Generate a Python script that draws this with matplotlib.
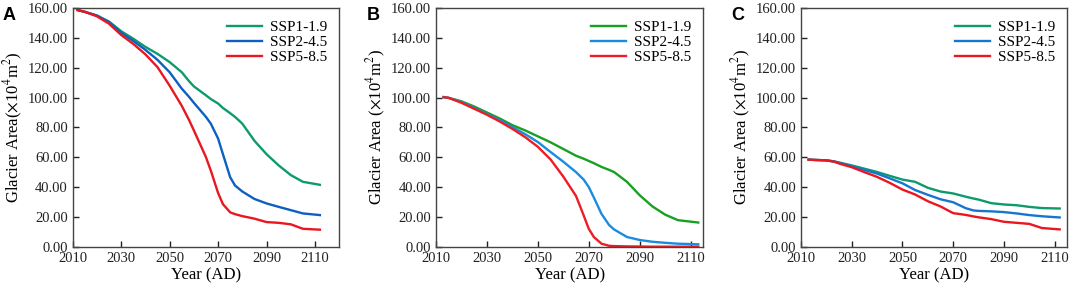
import matplotlib
matplotlib.use("Agg")
import matplotlib.pyplot as plt
from matplotlib.ticker import FormatStrFormatter

plt.rcParams['font.family'] = ['Liberation Serif', 'DejaVu Serif']
plt.rcParams['mathtext.fontset'] = 'stix'

# panel A
years_a = [2012, 2015, 2020, 2025, 2030, 2035, 2040, 2045, 2050, 2055, 2058, 2060, 2065, 2067,
           2070, 2072, 2075, 2077, 2080, 2085, 2090, 2095, 2100, 2105, 2112]
ssp119_a = [158.7, 157.5, 155.0, 151.0, 144.5, 139.5, 134.0, 129.3, 123.8, 117.0, 111.0, 107.5, 101.5, 99.0,
            96.0, 93.0, 89.5, 87.0, 82.5, 71.0, 62.0, 54.5, 48.0, 43.5, 41.5]
ssp245_a = [158.7, 157.5, 155.0, 150.5, 143.5, 138.0, 132.0, 125.3, 117.0, 106.0, 100.5, 96.5, 87.0, 82.5,
            72.5, 62.0, 46.5, 41.0, 37.0, 32.0, 29.0, 26.7, 24.5, 22.3, 21.2]
ssp585_a = [158.7, 157.5, 154.5, 149.5, 142.0, 136.0, 129.0, 120.4, 108.0, 94.5, 85.0, 78.0, 60.0, 51.0,
            36.0, 28.5, 23.0, 21.8, 20.5, 18.8, 16.5, 16.0, 15.0, 12.0, 11.4]

# panel B
years_b = [2013, 2015, 2020, 2025, 2030, 2035, 2040, 2045, 2050, 2055, 2060, 2065, 2068,
           2070, 2072, 2075, 2078, 2080, 2085, 2090, 2095, 2100, 2105, 2113]
ssp119_b = [100.3, 99.8, 97.5, 94.0, 90.0, 86.0, 81.5, 78.0, 74.0, 70.0, 65.5, 61.0, 59.0,
            57.5, 56.0, 53.5, 51.5, 50.0, 43.5, 34.5, 27.0, 21.5, 17.8, 16.2]
ssp245_b = [100.3, 99.8, 97.0, 93.0, 89.0, 85.0, 80.2, 75.5, 70.2, 63.5, 57.0, 50.0, 45.0,
            40.0, 33.0, 22.0, 14.5, 11.5, 6.5, 4.5, 3.3, 2.6, 2.0, 1.6]
ssp585_b = [100.3, 99.8, 96.5, 92.5, 88.5, 84.0, 79.0, 73.5, 67.0, 58.5, 47.0, 34.0, 21.0,
            12.0, 6.5, 2.0, 0.6, 0.4, 0.2, 0.1, 0.0, 0.0, 0.0, 0.0]

# panel C
years_c = [2013, 2015, 2020, 2023, 2025, 2030, 2035, 2040, 2045, 2050, 2055, 2060, 2065,
           2070, 2075, 2078, 2080, 2085, 2090, 2095, 2100, 2105, 2112]
ssp119_c = [58.4, 58.2, 57.9, 57.2, 56.5, 54.5, 52.3, 50.1, 47.5, 45.0, 43.5, 39.5, 37.0,
            35.7, 33.5, 32.3, 31.6, 29.2, 28.3, 27.8, 26.7, 25.9, 25.6]
ssp245_c = [58.4, 58.2, 57.9, 57.2, 56.2, 54.0, 51.5, 49.0, 45.8, 42.5, 38.0, 34.8, 31.8,
            29.8, 25.8, 24.3, 24.0, 23.7, 23.2, 22.3, 21.2, 20.4, 19.6]
ssp585_c = [58.4, 58.2, 57.9, 57.0, 55.8, 53.3, 50.0, 46.8, 42.8, 38.3, 35.0, 30.5, 27.0,
            22.5, 21.3, 20.3, 19.7, 18.5, 16.7, 16.0, 15.3, 12.5, 11.6]

labels = ['SSP1-1.9', 'SSP2-4.5', 'SSP5-8.5']

panels = [
    ('A', years_a, [ssp119_a, ssp245_a, ssp585_a], ['#0e9a6c', '#0b60c0', '#ea1620'],
     2120, 'Glacier Area($\\times$10$^{4}$m$^{2}$)', [0.0678, 0.1666, 0.2487, 0.806]),
    ('B', years_b, [ssp119_b, ssp245_b, ssp585_b], ['#17a021', '#1a8ce0', '#ee1c24'],
     2115, 'Glacier Area ($\\times$10$^{4}$m$^{2}$)', [0.4067, 0.1666, 0.2494, 0.806]),
    ('C', years_c, [ssp119_c, ssp245_c, ssp585_c], ['#0e9a6c', '#1775d0', '#ea1620'],
     2115, 'Glacier Area ($\\times$10$^{4}$m$^{2}$)', [0.7472, 0.1666, 0.2484, 0.806]),
]

fig = plt.figure(figsize=(10.72, 2.96), dpi=100)

for letter, years, series, colors, xmax, ylabel, pos in panels:
    ax = fig.add_axes(pos)
    for vals, col, lab in zip(series, colors, labels):
        ax.plot(years, vals, color=col, lw=1.7, label=lab)
    ax.set_xlim(2010, xmax)
    ax.set_ylim(0, 160)
    ax.set_xticks(range(2010, 2111, 20))
    ax.set_yticks(range(0, 161, 20))
    ax.yaxis.set_major_formatter(FormatStrFormatter('%.2f'))
    ax.tick_params(direction='in', length=4, width=1, labelsize=10.5, colors='#222222')
    for sp in ax.spines.values():
        sp.set_color('#444444')
        sp.set_linewidth(1)
    ax.set_xlabel('Year (AD)', fontsize=12, labelpad=2)
    ax.set_ylabel(ylabel, fontsize=12, labelpad=2)
    ax.legend(loc='upper right', frameon=False, fontsize=11, handlelength=2.3,
              handletextpad=0.5, labelspacing=0.1, borderaxespad=0.4)
    fig.text(pos[0] - 0.065, 0.975, letter, fontsize=13, fontweight='bold',
             family='Liberation Sans', va='top', ha='left')

fig.savefig('out.png', dpi=100)
